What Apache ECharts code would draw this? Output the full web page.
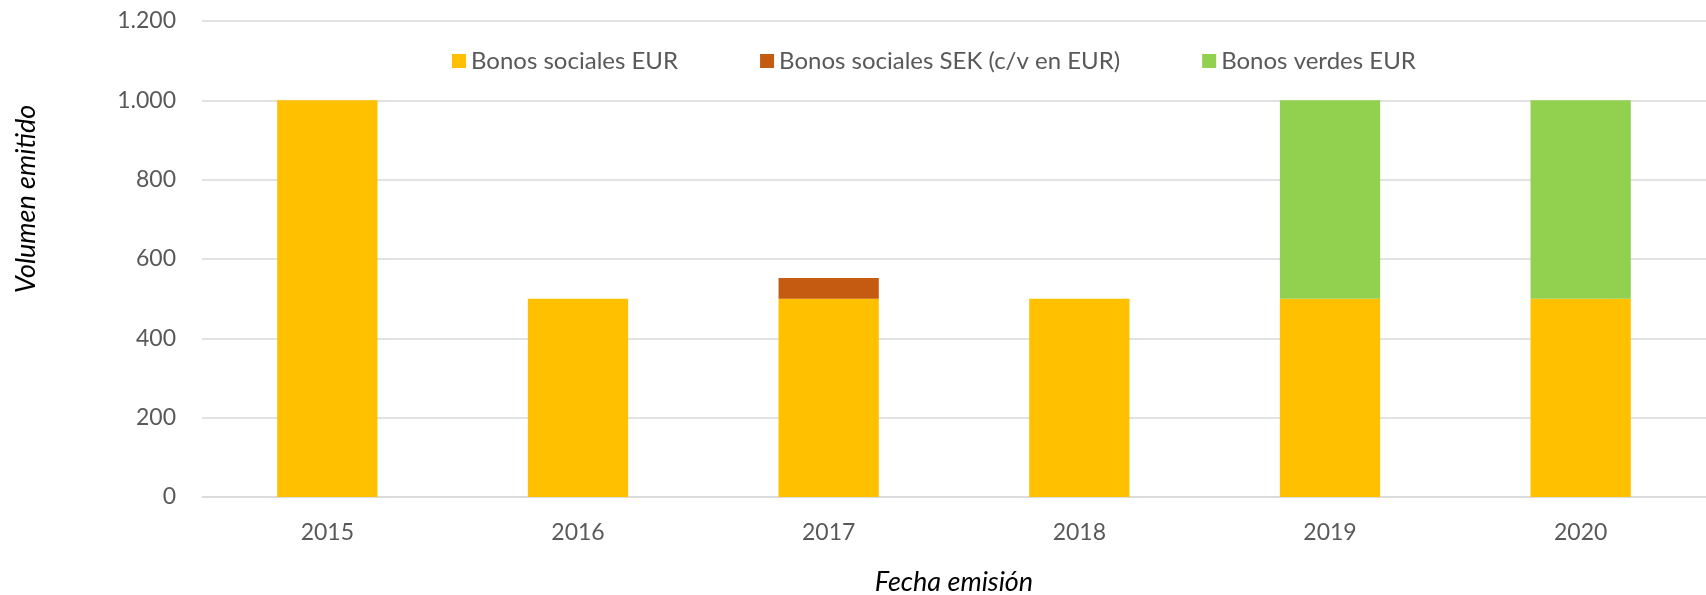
<!DOCTYPE html>
<html>
<head>
<meta charset="utf-8">
<title>Volumen emitido</title>
<script src="https://cdn.jsdelivr.net/npm/echarts@6/dist/echarts.min.js"></script>
<style>
  html, body { margin: 0; padding: 0; background: #fff; }
  #chart { width: 1706px; height: 595px; }
</style>
</head>
<body>
<div id="chart"></div>
<script>
// datos del gráfico
var years = ["2015", "2016", "2017", "2018", "2019", "2020"];
var socialesEUR = [1000, 500, 500, 500, 500, 500];
var socialesSEK = [0, 0, 52, 0, 0, 0]; // c/v en EUR
var verdesEUR = [0, 0, 0, 0, 500, 500];
var seriesNames = ["Bonos sociales EUR", "Bonos sociales SEK (c/v en EUR)", "Bonos verdes EUR"];

var fontFam = "Lato, 'Open Sans', sans-serif";
var gris = "#595959";

var myChart = echarts.init(document.getElementById('chart'));

// formato 1.200 con punto de miles
function miles(v) {
    return String(v).replace(/\B(?=(\d{3})+(?!\d))/g, ".");
}

var option = {
    animation: false,
    color: ["#FFC000", "#C55A11", "#92D050"],
    grid: { left: 202, right: 0, top: 21, bottom: 98, outerBoundsMode: 'none', containLabel: false },
    legend: {
        data: seriesNames,
        top: 44,
        left: 447,
        itemWidth: 14,
        itemHeight: 14,
        itemGap: 82,
        icon: 'rect',
        textStyle: { color: gris, fontSize: 24, fontFamily: fontFam }
    },
    xAxis: {
        type: 'category',
        data: years,
        name: 'Fecha emisión',
        nameLocation: 'middle',
        nameGap: 72,
        nameTextStyle: { color: '#000', fontSize: 27, fontStyle: 'italic', fontFamily: fontFam },
        axisLine: { lineStyle: { color: '#d9d9d9', width: 1.5 } },
        axisTick: { show: false },
        axisLabel: { color: gris, fontSize: 23, fontFamily: fontFam, margin: 24 }
    },
    yAxis: {
        type: 'value',
        min: 0,
        max: 1200,
        interval: 200,
        axisLine: { show: false },
        axisTick: { show: false },
        splitLine: { lineStyle: { color: '#d9d9d9', width: 1.5 } },
        axisLabel: {
            color: gris, fontSize: 23, fontFamily: fontFam, margin: 26,
            formatter: miles
        }
    },
    graphic: [{
        type: 'text',
        x: 26,
        y: 199,
        rotation: Math.PI / 2,
        style: {
            text: 'Volumen emitido',
            fill: '#000',
            font: "italic 27px " + fontFam,
            align: 'center',
            verticalAlign: 'middle'
        }
    }],
    series: [
        { name: seriesNames[0], type: 'bar', stack: 'total', barWidth: '40%', data: socialesEUR },
        { name: seriesNames[1], type: 'bar', stack: 'total', barWidth: '40%', data: socialesSEK },
        { name: seriesNames[2], type: 'bar', stack: 'total', barWidth: '40%', data: verdesEUR }
    ]
};

myChart.setOption(option);
</script>
</body>
</html>
